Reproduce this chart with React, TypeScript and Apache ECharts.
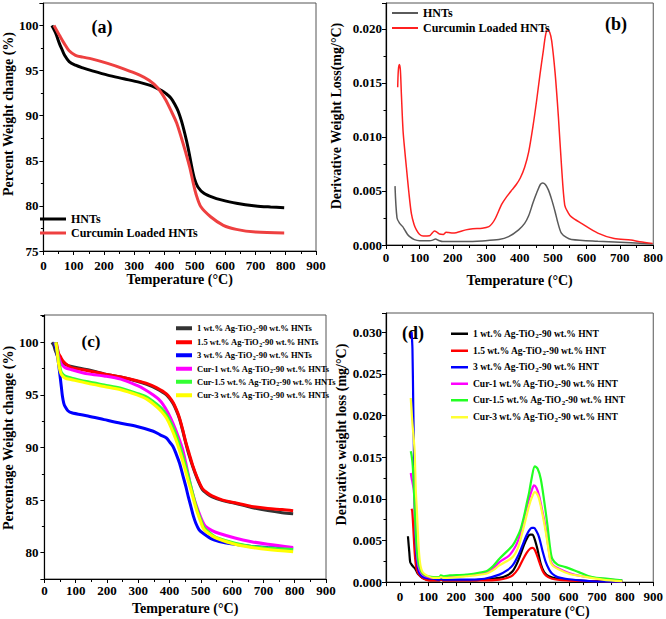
import React, { useEffect, useRef } from "react";
import * as echarts from "echarts";

const SERIF = "'Liberation Serif', 'Times New Roman', serif";

// ---------- (a) TGA ----------
const A_HNTS: [number, number][] = [[28,100],[40,99.2],[53,98.0],[62,97.3],[70,96.7],[85,96.0],[106,95.6],[130,95.3],[159,95.0],[212,94.5],[265,94.1],[318,93.7],[350,93.4],[372,93.1],[390,92.8],[403,92.5],[420,92.0],[435,91.2],[445,90.5],[456,89.4],[467,88.0],[478,86.4],[490,84.3],[499,83.0],[510,82.1],[530,81.4],[560,80.95],[584,80.7],[637,80.3],[701,80.0],[750,79.88],[795,79.8]];
const A_CUR: [number, number][] = [[35,100],[45,99.4],[55,98.8],[69,98.0],[85,97.2],[106,96.7],[130,96.5],[159,96.3],[212,95.8],[265,95.2],[318,94.5],[350,93.9],[377,93.1],[403,91.8],[425,90.3],[440,89.2],[456,87.5],[470,85.9],[483,84.3],[495,82.5],[504,81.3],[520,79.9],[552,78.8],[594,77.85],[637,77.4],[701,77.1],[795,77.0]];

// ---------- (b) DTG ----------
const B_HNTS: [number, number][] = [[27,0.00545],[33,0.0025],[41,0.0020],[50,0.0017],[56,0.0014],[64,0.0010],[71,0.00077],[85,0.0005],[101,0.0004],[130,0.0004],[140,0.00045],[148,0.00055],[158,0.00042],[170,0.00032],[239,0.00032],[288,0.00038],[338,0.0005],[367,0.00077],[397,0.0014],[415,0.0020],[427,0.0027],[440,0.0039],[452,0.0049],[462,0.0056],[469,0.00575],[477,0.0056],[486,0.0051],[496,0.0042],[506,0.0031],[515,0.0020],[525,0.0011],[540,0.0007],[555,0.00052],[634,0.00035],[733,0.0002],[798,0.0001]];
const B_CUR: [number, number][] = [[35,0.0146],[37,0.0162],[40,0.0167],[43,0.0162],[46,0.0140],[51,0.0106],[56,0.0088],[61,0.0072],[68,0.0050],[76,0.0029],[84,0.0019],[91,0.0014],[100,0.0010],[111,0.00083],[130,0.00085],[138,0.0011],[145,0.0013],[152,0.0012],[160,0.00102],[172,0.00098],[180,0.00118],[188,0.00115],[200,0.0011],[239,0.0014],[260,0.0015],[288,0.00155],[308,0.0017],[318,0.0020],[328,0.0025],[347,0.0038],[362,0.0045],[377,0.0051],[390,0.0056],[402,0.0062],[415,0.0072],[427,0.0086],[440,0.0110],[451,0.0134],[461,0.0158],[471,0.0180],[478,0.0195],[484,0.0199],[490,0.0197],[496,0.0189],[506,0.0160],[516,0.0119],[525,0.0075],[535,0.0037],[545,0.0030],[555,0.0026],[585,0.0020],[634,0.0011],[683,0.0006],[733,0.00046],[760,0.0003],[798,0.00015]];

// ---------- (c) TGA ----------
const C_1: [number, number][] = [[24,100],[30,99.7],[35,99.2],[45,98.5],[55,98.1],[66,97.9],[87,97.7],[139,97.4],[191,97.0],[244,96.7],[296,96.3],[327,96.0],[358,95.6],[390,95.0],[411,94.2],[422,93.5],[432,92.7],[442,91.6],[452,90.4],[463,89.2],[474,88.2],[489,87.0],[505,86.0],[520,85.6],[536,85.3],[570,84.95],[609,84.7],[662,84.3],[714,84.0],[760,83.8],[795,83.7]];
const C_15: [number, number][] = [[38,100],[45,99.0],[52,98.6],[60,98.2],[75,97.8],[87,97.6],[139,97.3],[191,97.0],[244,96.7],[296,96.35],[327,96.1],[358,95.7],[390,95.1],[411,94.3],[422,93.6],[432,92.8],[442,91.7],[452,90.5],[463,89.4],[474,88.3],[489,87.1],[505,86.1],[520,85.7],[536,85.4],[570,85.0],[609,84.75],[662,84.4],[714,84.2],[760,84.1],[795,84.0]];
const C_3: [number, number][] = [[32,100],[36,99.5],[40,99.0],[45,98.0],[50,96.8],[54,95.8],[57.5,94.9],[62,94.2],[66,93.9],[75,93.5],[87,93.3],[139,93.0],[191,92.65],[244,92.3],[296,92.0],[348,91.55],[370,91.2],[390,90.9],[401,90.5],[411,90.1],[421,89.4],[432,88.5],[442,87.4],[452,86.3],[460,85.3],[468,84.4],[476,83.5],[484,82.8],[494,82.2],[505,81.9],[536,81.3],[570,81.0],[609,80.8],[662,80.6],[714,80.5],[795,80.4]];
const C_CUR1: [number, number][] = [[34,100],[40,99.4],[45,98.7],[50,98.2],[55,97.9],[66,97.6],[87,97.4],[139,97.0],[191,96.8],[244,96.5],[296,95.9],[322,95.5],[348,95.0],[365,94.6],[379,94.1],[395,93.3],[411,92.3],[427,91.1],[442,89.8],[455,88.1],[468,86.3],[481,84.9],[494,83.8],[505,83.0],[515,82.5],[536,82.1],[557,81.85],[609,81.4],[662,81.05],[714,80.8],[795,80.5]];
const C_CUR15: [number, number][] = [[36,100],[40,99.4],[45,98.4],[50,97.6],[55,97.1],[66,96.8],[87,96.6],[139,96.25],[191,95.95],[244,95.65],[296,95.15],[327,94.8],[358,94.15],[375,93.7],[390,93.1],[405,92.3],[421,91.2],[434,90.0],[447,88.7],[458,87.5],[468,86.3],[479,85.0],[489,84.0],[500,83.1],[510,82.4],[536,81.7],[557,81.35],[609,80.9],[662,80.6],[714,80.45],[795,80.3]];
const C_CUR3: [number, number][] = [[37,100],[41,99.0],[45,98.0],[50,97.3],[55,96.9],[66,96.6],[87,96.45],[139,96.1],[191,95.8],[244,95.5],[296,95.0],[327,94.6],[358,93.9],[375,93.4],[390,92.8],[405,91.9],[421,90.7],[434,89.5],[447,88.2],[458,87.0],[468,86.0],[479,84.8],[489,83.8],[500,82.9],[510,82.2],[536,81.6],[557,81.3],[609,80.8],[662,80.5],[714,80.3],[795,80.1]];

// ---------- (d) DTG ----------
const D_1: [number, number][] = [[28,0.0055],[33,0.0035],[36,0.0024],[41,0.0021],[48,0.0018],[54,0.0016],[60,0.0012],[66,0.0009],[72,0.0007],[80,0.0005],[95,0.0003],[106,0.0002],[140,0.0002],[145,0.0003],[155,0.0002],[250,0.0002],[300,0.0003],[353,0.0005],[380,0.0008],[400,0.0013],[415,0.0022],[428,0.0033],[441,0.0045],[452,0.0053],[462,0.0057],[470,0.0057],[478,0.0052],[488,0.0040],[500,0.0022],[512,0.0012],[529,0.0007],[560,0.0004],[588,0.0003],[650,0.00015],[706,0.0001],[790,0.00005]];
const D_15: [number, number][] = [[40,0.0088],[43,0.0086],[47,0.0065],[52,0.0035],[57,0.0018],[62,0.0012],[70,0.0008],[85,0.0004],[100,0.0002],[140,0.0002],[145,0.0003],[155,0.0002],[300,0.0002],[353,0.0003],[380,0.0005],[400,0.0008],[420,0.0016],[435,0.0026],[450,0.0035],[462,0.0040],[471,0.0041],[480,0.0038],[494,0.0025],[506,0.0014],[518,0.0008],[540,0.0004],[588,0.0002],[700,0.0001],[790,0.00005]];
const D_3: [number, number][] = [[41,0.0300],[44,0.0280],[47,0.0210],[50,0.0140],[53,0.0080],[56,0.0045],[60,0.0025],[66,0.0013],[74,0.0008],[90,0.0005],[118,0.0004],[140,0.0003],[145,0.0004],[155,0.0003],[250,0.0003],[300,0.0004],[353,0.0009],[380,0.0014],[400,0.0020],[420,0.0032],[435,0.0044],[448,0.0055],[459,0.0062],[468,0.0065],[476,0.0065],[485,0.0061],[494,0.0054],[506,0.0038],[518,0.0024],[530,0.0015],[541,0.0010],[560,0.0006],[588,0.0004],[640,0.0002],[682,0.0001],[790,0.00005]];
const D_CUR1: [number, number][] = [[38,0.0131],[41,0.0125],[45,0.0118],[49,0.0110],[53,0.0080],[57,0.0050],[61,0.0030],[66,0.0018],[75,0.0011],[90,0.0007],[118,0.0005],[140,0.0005],[145,0.0007],[155,0.0006],[235,0.0008],[306,0.0011],[330,0.0016],[353,0.0024],[388,0.0032],[412,0.0044],[425,0.0055],[435,0.0068],[447,0.0085],[459,0.0100],[468,0.0110],[476,0.0116],[485,0.0113],[494,0.0104],[506,0.0085],[518,0.0064],[528,0.0040],[535,0.0026],[545,0.0020],[565,0.0016],[600,0.0011],[647,0.0007],[720,0.0004],[790,0.0002]];
const D_CUR15: [number, number][] = [[38,0.0157],[41,0.0152],[45,0.0140],[50,0.0105],[55,0.0065],[60,0.0037],[66,0.0022],[75,0.0013],[85,0.0009],[100,0.0007],[118,0.0006],[140,0.0006],[145,0.0008],[155,0.0007],[176,0.0008],[235,0.0009],[306,0.0013],[330,0.0019],[353,0.0028],[400,0.0044],[418,0.0055],[429,0.0064],[440,0.0078],[450,0.0094],[459,0.0108],[468,0.0125],[479,0.0139],[489,0.0136],[500,0.0124],[512,0.0098],[524,0.0068],[533,0.0042],[541,0.0028],[560,0.0021],[588,0.0018],[635,0.0012],[682,0.0006],[740,0.0004],[790,0.0002]];
const D_CUR3: [number, number][] = [[38,0.0221],[40,0.0210],[44,0.0190],[48,0.0175],[52,0.0155],[56,0.0110],[60,0.0085],[64,0.0055],[68,0.0033],[73,0.0019],[80,0.0012],[95,0.0008],[118,0.0005],[140,0.0005],[145,0.0006],[155,0.0005],[235,0.0007],[306,0.0010],[330,0.0014],[353,0.0020],[400,0.0030],[420,0.0042],[435,0.0060],[447,0.0076],[459,0.0092],[470,0.0103],[479,0.0108],[487,0.0106],[494,0.0100],[506,0.0082],[518,0.0060],[528,0.0038],[535,0.0024],[545,0.0019],[565,0.0015],[600,0.0010],[647,0.0007],[720,0.0003],[790,0.0001]];

const C_NAMES = [
  "1 wt.% Ag-TiO2-90 wt.% HNTs",
  "1.5 wt.% Ag-TiO2-90 wt.% HNTs",
  "3 wt.% Ag-TiO2-90 wt.% HNTs",
  "Cur-1 wt.% Ag-TiO2-90 wt.% HNTs",
  "Cur-1.5 wt.% Ag-TiO2-90 wt.% HNTs",
  "Cur-3 wt.% Ag-TiO2-90 wt.% HNTs",
];
const D_NAMES = [
  "1 wt.% Ag-TiO2-90 wt.% HNT",
  "1.5 wt.% Ag-TiO2-90 wt.% HNT",
  "3 wt.% Ag-TiO2-90 wt.% HNT",
  "Cur-1 wt.% Ag-TiO2-90 wt.% HNT",
  "Cur-1.5 wt.% Ag-TiO2-90 wt.% HNT",
  "Cur-3 wt.% Ag-TiO2-90 wt.% HNT",
];
const C_COLORS = ["#333333", "#ff0000", "#0000ff", "#ff00ff", "#33ff33", "#ffff00"];
const D_COLORS = ["#000000", "#ff0000", "#0000ff", "#ff00ff", "#22ff22", "#ffff33"];
const C_DATA = [C_1, C_15, C_3, C_CUR1, C_CUR15, C_CUR3];
const D_DATA = [D_1, D_15, D_3, D_CUR1, D_CUR15, D_CUR3];
const C_ROWS = [328, 342, 355, 368.5, 381.5, 395];
const D_ROWS = [333.5, 350.5, 367, 383.5, 400, 417];

const boldText = (size: number) => ({
  color: "#000",
  fontFamily: SERIF,
  fontWeight: "bold" as const,
  fontSize: size,
});

function xAxis(gi: number, min: number, max: number, nameGap: number, labelMargin: number, extra: any = {}) {
  return {
    type: "value",
    gridIndex: gi,
    min,
    max,
    interval: 100,
    name: "Temperature (°C)",
    nameLocation: "middle",
    nameGap,
    nameTextStyle: { ...boldText(14), ...(extra.nameTextStyle || {}) },
    axisLine: { show: true, onZero: false, lineStyle: { color: "#000", width: 1.2 } },
    axisTick: { show: true, inside: false, length: 4, lineStyle: { color: "#000", width: 1 } },
    minorTick: { show: true, splitNumber: 2, length: 3, lineStyle: { color: "#000", width: 1 } },
    splitLine: { show: false },
    axisLabel: { ...boldText(13), margin: labelMargin, showMaxLabel: extra.showMaxLabel ?? true, showMinLabel: extra.showMinLabel ?? true },
    ...(extra.axis || {}),
  };
}

function yAxis(gi: number, min: number, max: number, name: string, nameGap: number, shift: number, labelMargin: number, fmt: (v: number) => string, extra: any = {}) {
  return {
    type: "value",
    gridIndex: gi,
    min,
    max,
    name,
    nameLocation: "middle",
    nameGap,
    nameTextStyle: { ...boldText(14), padding: [0, 0, 0, shift] },
    axisLine: { show: true, onZero: false, lineStyle: { color: "#000", width: 1.2 } },
    axisTick: { show: true, inside: false, length: 4, lineStyle: { color: "#000", width: 1 } },
    minorTick: { show: true, splitNumber: 2, length: 2.5, lineStyle: { color: "#000", width: 1 } },
    splitLine: { show: false },
    axisLabel: { ...boldText(13), margin: labelMargin, formatter: fmt, showMaxLabel: false, showMinLabel: extra.showMinLabel ?? true },
    ...(extra.axis || {}),
  };
}

function legendItem(name: string, left: number, centerY: number, fontSize: number, thick: number, width: number, formatter?: any, rich?: any) {
  return {
    data: [name],
    left,
    top: centerY - fontSize / 2,
    orient: "vertical",
    padding: 0,
    icon: "rect",
    itemWidth: width,
    itemHeight: thick,
    selectedMode: false,
    textStyle: { ...boldText(fontSize), ...(rich ? { rich } : {}) },
    ...(formatter ? { formatter } : {}),
  };
}

function line(name: string, data: [number, number][], color: string, width: number, gi: number) {
  return {
    type: "line",
    name,
    xAxisIndex: gi,
    yAxisIndex: gi,
    data,
    showSymbol: false,
    symbol: "none",
    smooth: 0.3,
    color,
    lineStyle: { color, width },
    itemStyle: { color },
  };
}

const fmtInt = (v: number) => String(Math.round(v));
const fmt3 = (v: number) => v.toFixed(3);

export default function App() {
  const ref = useRef<HTMLDivElement>(null);
  useEffect(() => {
    if (!ref.current) return;
    const chart = echarts.init(ref.current, undefined, { renderer: "svg" });
    const subFmt = (n: string) => n.replace("TiO2", "TiO{s|2}");
    const richC = { s: { fontSize: 6, fontWeight: "bold", fontFamily: SERIF, color: "#000", verticalAlign: "bottom", padding: [5, 0, 0, 0] } };
    const richD = { s: { fontSize: 7, fontWeight: "bold", fontFamily: SERIF, color: "#000", verticalAlign: "bottom", padding: [5, 0, 0, 0] } };

    const option: any = {
      animation: false,
      backgroundColor: "#fff",
      grid: [
        { left: 33, top: 3, width: 283, height: 248, show: true, borderColor: "#555", borderWidth: 1 },
        { left: 386, top: 3, width: 270, height: 242, show: true, borderColor: "#555", borderWidth: 1 },
        { left: 39, top: 315, width: 287, height: 264, show: true, borderColor: "#555", borderWidth: 1 },
        { left: 386, top: 313, width: 270, height: 270, show: true, borderColor: "#555", borderWidth: 1 },
      ],
      xAxis: [
        xAxis(0, 0, 900, 19, 8),
        xAxis(1, 0, 800, 28, 6),
        xAxis(2, 0, 900, 22, 5),
        xAxis(3, -50, 900, 20, 8, {
          showMinLabel: false,
          axis: { minInterval: 100, maxInterval: 100 },
          nameTextStyle: { padding: [0, 0, 0, 34] },
        }),
      ],
      yAxis: [
        yAxis(0, 75, 102.5, "Percent Weight change (%)", 23, 26, 5, fmtInt, { axis: { interval: 5 } }),
        yAxis(1, 0, 0.0224, "Derivative Weight Loss(mg/°C)", 43, 16, 4, fmt3, { axis: { interval: 0.005 } }),
        yAxis(2, 77.5, 102.6, "Percentage Weight change (%)", 24, 18, 6, fmtInt, {
          showMinLabel: false,
          axis: { minInterval: 5, maxInterval: 5 },
        }),
        yAxis(3, 0, 0.0323, "Derivative weight loss (mg/°C)", 38, 26, 4, fmt3, { axis: { interval: 0.005 } }),
      ],
      legend: [
        legendItem("HNTs", 40, 219, 12, 3, 26),
        legendItem("Curcumin Loaded HNTs", 40, 233, 12, 3, 26),
        legendItem("HNTs (DTG)", 392, 13, 12, 2, 26, (n: string) => n.replace(" (DTG)", "")),
        legendItem("Curcumin Loaded HNTs (DTG)", 392, 28, 12, 2, 26, (n: string) => n.replace(" (DTG)", "")),
        ...C_NAMES.map((n, i) => legendItem(n, 176, C_ROWS[i], 8.5, 4, 16, subFmt, richC)),
        ...D_NAMES.map((n, i) => legendItem(n, 451, D_ROWS[i], 9.5, 2.5, 17, subFmt, richD)),
      ],
      graphic: [
        { type: "text", x: 102, y: 27, style: { text: "(a)", fill: "#000", font: `bold 18px ${SERIF}`, textAlign: "center", textVerticalAlign: "middle" } },
        { type: "text", x: 616, y: 24, style: { text: "(b)", fill: "#000", font: `bold 18px ${SERIF}`, textAlign: "center", textVerticalAlign: "middle" } },
        { type: "text", x: 91, y: 341, style: { text: "(c)", fill: "#000", font: `bold 17px ${SERIF}`, textAlign: "center", textVerticalAlign: "middle" } },
        { type: "text", x: 413, y: 333, style: { text: "(d)", fill: "#000", font: `bold 18px ${SERIF}`, textAlign: "center", textVerticalAlign: "middle" } },
      ],
      series: [
        line("HNTs", A_HNTS, "#000000", 3, 0),
        line("Curcumin Loaded HNTs", A_CUR, "#ee4040", 3, 0),
        line("HNTs (DTG)", B_HNTS, "#5a5a5a", 1.5, 1),
        line("Curcumin Loaded HNTs (DTG)", B_CUR, "#ff2020", 1.5, 1),
        ...C_NAMES.map((n, i) => line(n, C_DATA[i], C_COLORS[i], 3, 2)),
        ...D_NAMES.map((n, i) => line(n, D_DATA[i], D_COLORS[i], 2.2, 3)),
      ],
    };
    delete option.xAxis[3].interval;
    chart.setOption(option);
    return () => chart.dispose();
  }, []);
  return <div ref={ref} style={{ position: "fixed", left: 0, top: 0, width: 666, height: 619 }} />;
}
